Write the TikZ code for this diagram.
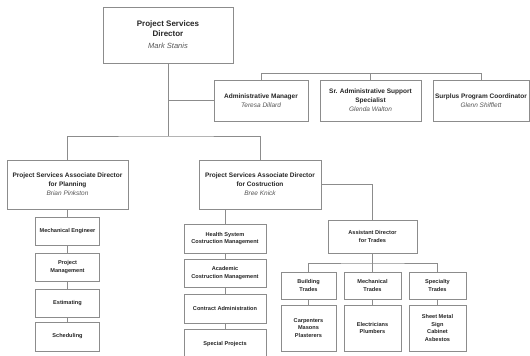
\documentclass[tikz,border=0pt]{standalone}
\usepackage{fontspec}
\setmainfont{Liberation Sans}
\definecolor{linegray}{HTML}{8C8C8C}
\definecolor{textdark}{HTML}{262626}
\definecolor{namegray}{HTML}{555555}
\begin{document}
\begin{tikzpicture}[x=1pt,y=-1pt,
  box/.style={draw=linegray, line width=0.8pt, fill=white, inner sep=0pt, align=center, text=textdark},
  big/.style={box, font=\fontsize{6.5}{9}\selectfont\bfseries},
  small/.style={box, font=\fontsize{5.6}{7.8}\selectfont\bfseries},
  conn/.style={draw=linegray, line width=0.8pt}]
\useasboundingbox (0,0) rectangle (530,356);
\clip (0,0) rectangle (530,356);
\fill[white] (0,0) rectangle (530,356);
\newcommand{\nm}[1]{{\mdseries\itshape\color{namegray}#1}}
% director
\node[box, minimum width=130pt, minimum height=56pt, font=\fontsize{8}{10}\selectfont\bfseries] (dir) at (168,35)
  {Project Services\\Director\\[2pt]{\fontsize{7.5}{9}\selectfont\nm{Mark Stanis}}};
% admin row
\node[big, minimum width=94pt, minimum height=41pt] (adm) at (261,100.5) {Administrative Manager\\\nm{Teresa Dillard}};
\node[big, minimum width=101pt, minimum height=41pt] (sra) at (370.5,100.5) {Sr. Administrative Support\\Specialist\\\nm{Glenda Walton}};
\node[big, minimum width=96pt, minimum height=41pt] (sur) at (481,100.5) {Surplus Program Coordinator\\\nm{Glenn Shifflett}};
% associate directors
\node[big, minimum width=121pt, minimum height=49pt] (pln) at (67.5,184.5) {Project Services Associate Director\\for Planning\\\nm{Brian Pinkston}};
\node[big, minimum width=122pt, minimum height=49pt] (con) at (260,184.5) {Project Services Associate Director\\for Costruction\\\nm{Bree Knick}};
% planning chain
\node[small, minimum width=64pt, minimum height=28pt] (me) at (67.5,231) {Mechanical Engineer};
\node[small, minimum width=64pt, minimum height=28pt] (pm) at (67.5,267) {Project\\Management};
\node[small, minimum width=64pt, minimum height=28pt] (est) at (67.5,303) {Estimating};
\node[small, minimum width=64pt, minimum height=29pt] (sch) at (67.5,336.5) {Scheduling};
% construction chain
\node[small, minimum width=82pt, minimum height=29pt] (hs) at (225,238.5) {Health System\\Costruction Management};
\node[small, minimum width=82pt, minimum height=28pt] (ac) at (225,273) {Academic\\Costruction Management};
\node[small, minimum width=82pt, minimum height=29pt] (ca) at (225,308.5) {Contract Administration};
\node[small, minimum width=82pt, minimum height=30pt] (sp) at (225,344) {Special Projects};
% trades
\node[small, minimum width=89pt, minimum height=33pt] (ad) at (372.5,236.5) {Assistant Director\\for Trades};
\node[small, minimum width=55pt, minimum height=27pt] (bt) at (308.5,285.5) {Building\\Trades};
\node[small, minimum width=57pt, minimum height=27pt] (mt) at (372.5,285.5) {Mechanical\\Trades};
\node[small, minimum width=57pt, minimum height=27pt] (st) at (437.5,285.5) {Specialty\\Trades};
\node[small, minimum width=55pt, minimum height=46pt] (cp) at (308.5,328) {Carpenters\\Masons\\Plasterers};
\node[small, minimum width=57pt, minimum height=46pt] (el) at (372.5,328) {Electricians\\Plumbers};
\node[small, minimum width=57pt, minimum height=46pt] (sm) at (437.5,328) {Sheet Metal\\Sign\\Cabinet\\Asbestos};
% junctions
\coordinate (j1) at (168,136);
\coordinate (abar) at (261,73);
\coordinate (tbar) at (372.5,263);
% connectors
\draw[conn] (dir.south) -- (j1);
\draw[conn] (pln.north) |- (j1) -| (con.north);
\draw[conn] (dir.south |- adm.west) -- (adm.west);
\draw[conn] (adm.north) -- (abar) -| (sur.north);
\draw[conn] (sra.north) -- (sra.north |- abar);
\draw[conn] (pln.south) -- (me.north);
\draw[conn] (me.south) -- (pm.north);
\draw[conn] (pm.south) -- (est.north);
\draw[conn] (est.south) -- (sch.north);
\draw[conn] (hs.north |- con.south) -- (hs.north);
\draw[conn] (hs.south) -- (ac.north);
\draw[conn] (ac.south) -- (ca.north);
\draw[conn] (ca.south) -- (sp.north);
\draw[conn] (con.east) -| (ad.north);
\draw[conn] (ad.south) -- (tbar);
\draw[conn] (bt.north) |- (tbar) -| (st.north);
\draw[conn] (mt.north) -- (tbar);
\draw[conn] (bt.south) -- (cp.north);
\draw[conn] (mt.south) -- (el.north);
\draw[conn] (st.south) -- (sm.north);
\end{tikzpicture}
\end{document}
